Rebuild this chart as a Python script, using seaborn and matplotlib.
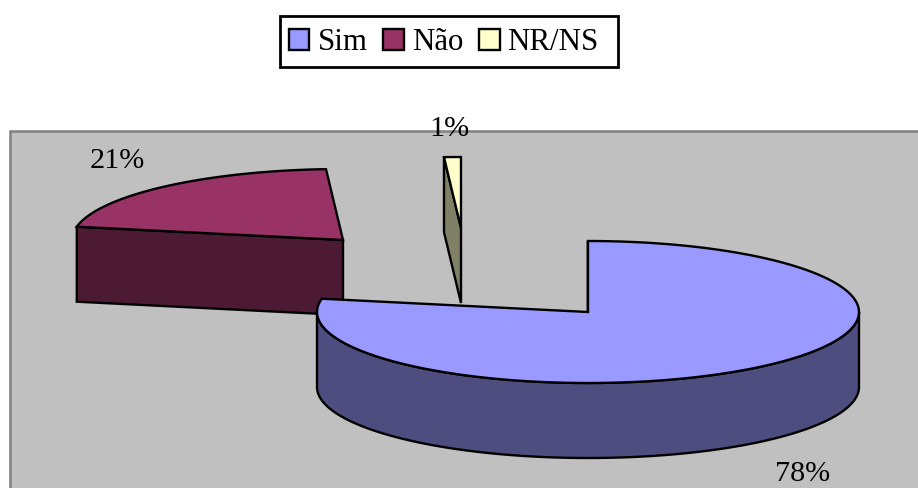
import numpy as np
import matplotlib
matplotlib.use("Agg")
import matplotlib.pyplot as plt
from matplotlib.patches import Patch, PathPatch, Rectangle
from matplotlib.path import Path
import seaborn as sns

# Survey answers and their shares in percent
categories = ["Sim", "Não", "NR/NS"]
shares = [78, 21, 1]
value_labels = ["78%", "21%", "1%"]

sns.set_theme(style="white")
plt.rcParams["font.family"] = ["Liberation Serif", "DejaVu Serif"]
plt.rcParams["text.color"] = "black"

top_colors = sns.color_palette(["#9999FF", "#993366", "#FFFFCC"])
side_colors = sns.color_palette(["#4D4D80", "#4D1A33", "#808066"])

# Pie geometry in figure pixels: ellipse radii, extrusion height, exploded centres
RX, RY, DEPTH = 271, 71, 75
centers = {"Sim": (588, 312), "Não": (343, 240), "NR/NS": (461, 228)}
label_pos = {"Sim": (803, 481), "Não": (117.5, 168), "NR/NS": (449, 136)}
draw_order = ["Não", "NR/NS", "Sim"]
LW = 1.7

fig = plt.figure(figsize=(9.18, 4.88), dpi=100)
ax = fig.add_axes([0, 0, 1, 1])
ax.set_xlim(0, 918)
ax.set_ylim(488, 0)
ax.axis("off")

ax.add_patch(Rectangle((9.5, 131), 930, 380, facecolor="#C0C0C0",
                       edgecolor="#808080", linewidth=1.8, zorder=0))


def rim(center, a0, a1, drop=0.0, n=160):
    """Points on the ellipse, with angles in degrees clockwise from 12 o'clock."""
    t = np.radians(np.linspace(a0, a1, n))
    return np.column_stack([center[0] + RX * np.sin(t),
                            center[1] - RY * np.cos(t) + drop])


def add_poly(points, color, z):
    codes = [Path.MOVETO] + [Path.LINETO] * (len(points) - 1) + [Path.CLOSEPOLY]
    verts = np.vstack([points, points[0]])
    ax.add_patch(PathPatch(Path(verts, codes), facecolor=color, edgecolor="black",
                           linewidth=LW, joinstyle="miter", zorder=z))


starts = np.cumsum([0] + shares[:-1]) * 3.6
ends = np.cumsum(shares) * 3.6

for z, name in enumerate(draw_order, start=1):
    i = categories.index(name)
    c = np.array(centers[name], dtype=float)
    a0, a1 = starts[i], ends[i]

    # Cut face along the slice's leading radius
    first = rim(c, a0, a0, n=1)[0]
    add_poly(np.array([first, c, c + [0, DEPTH], first + [0, DEPTH]]), side_colors[i], z)

    # Outer wall where the rim faces the viewer (90 to 270 degrees)
    w0, w1 = max(a0, 90), min(a1, 270)
    if w1 > w0:
        add_poly(np.vstack([rim(c, w0, w1), rim(c, w0, w1, DEPTH)[::-1]]), side_colors[i], z)

    # Top surface
    add_poly(np.vstack([c, rim(c, a0, a1)]), top_colors[i], z)

for name, text in zip(categories, value_labels):
    x, y = label_pos[name]
    ax.text(x, y, text, ha="center", va="baseline", fontsize=21.7, color="black", zorder=10)

# Legend: white frame with the swatches and names laid out inside it
ax.add_patch(Rectangle((279.5, 15.5), 338, 51, facecolor="white", edgecolor="black",
                       linewidth=2.0, zorder=5))
handles = [Patch(facecolor=col, edgecolor="black", linewidth=LW) for col in top_colors]
legend = fig.legend(handles, categories, loc="center left",
                    bbox_to_anchor=(288.5 / 918, 1 - 43 / 488),
                    ncol=3, fontsize=22.2, frameon=False, labelcolor="black",
                    handlelength=0.68, handleheight=0.68,
                    handletextpad=0.26, columnspacing=0.5, borderpad=0, borderaxespad=0)
legend.set_zorder(6)

fig.savefig("out.png", dpi=100)
